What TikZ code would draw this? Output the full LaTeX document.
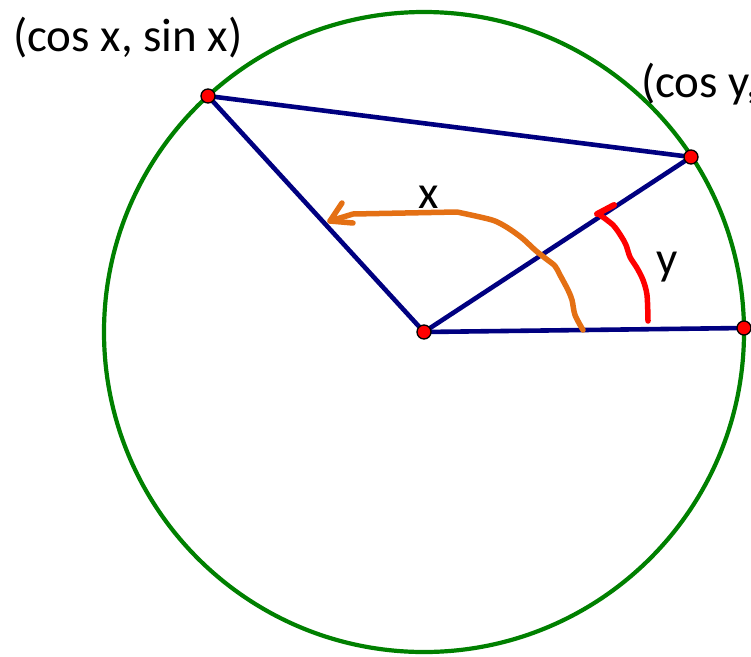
\documentclass[tikz,border=0pt]{standalone}
\usepackage{fontspec}
\setmainfont{Carlito}
\definecolor{circgreen}{RGB}{0,128,0}
\definecolor{navyline}{RGB}{0,0,128}
\definecolor{handorange}{RGB}{228,112,20}
\definecolor{handred}{RGB}{255,0,0}
\begin{document}
\begin{tikzpicture}[x=1pt,y=-1pt,
  seg/.style={navyline,line width=4.6pt},
  dot/.style={circle,fill=red,draw=black,line width=1.3pt,minimum size=14pt,inner sep=0pt},
  lbl/.style={font=\fontsize{47}{54}\selectfont,inner sep=0pt},
  hand/.style={line width=5.5pt,line cap=round,line join=round}]
\useasboundingbox (0,0) rectangle (751,656);
\clip (0,0) rectangle (751,656);
\fill[white] (0,0) rectangle (751,656);
\coordinate (O) at (424,332);
\draw[circgreen,line width=4.2pt] (O) circle[radius=320];
\coordinate (P) at (208,96);
\coordinate (Q) at (691,157);
\coordinate (R) at (744,328);
\draw[seg] (P) -- (Q);
\draw[seg] (P) -- (O);
\draw[seg] (O) -- (Q);
\draw[seg] (O) -- (R);
% orange hand-drawn arc for x
\draw[hand,handorange] plot[smooth,tension=0.5] coordinates {(583,330) (575,315) (572,300) (568,290) (560,275) (555,266) (545,258) (535,250) (522,238) (508,228) (495,221) (480,217) (457,212)} -- (353,214) -- (330,221);
\coordinate (xtip) at (330,221);
\draw[hand,handorange] (342,203) -- (xtip) -- (353,223);
% red hand-drawn arc for y
\draw[hand,handred] plot[smooth,tension=0.5] coordinates {(648,321) (647,295) (643,280) (637,268) (630,257) (626,245) (621,236) (613,225) (600,215)};
\coordinate (ytip) at (597,214);
\draw[handred,line width=6pt,line cap=round] (ytip) -- (614,205);
\node[dot] (Pd) at (P) {};
\node[dot] (Qd) at (Q) {};
\node[dot] (Rd) at (R) {};
\node[dot] (Od) at (O) {};
\node[lbl,anchor=base west] (lx) at (13,51) {(cos x, sin x)};
\node[lbl,anchor=base west] (ly) at (641,97) {(cos y, sin y)};
\node[lbl,anchor=base] (ax) at (429,208) {x};
\node[lbl,anchor=base] (ay) at (667,274) {y};
\end{tikzpicture}
\end{document}
